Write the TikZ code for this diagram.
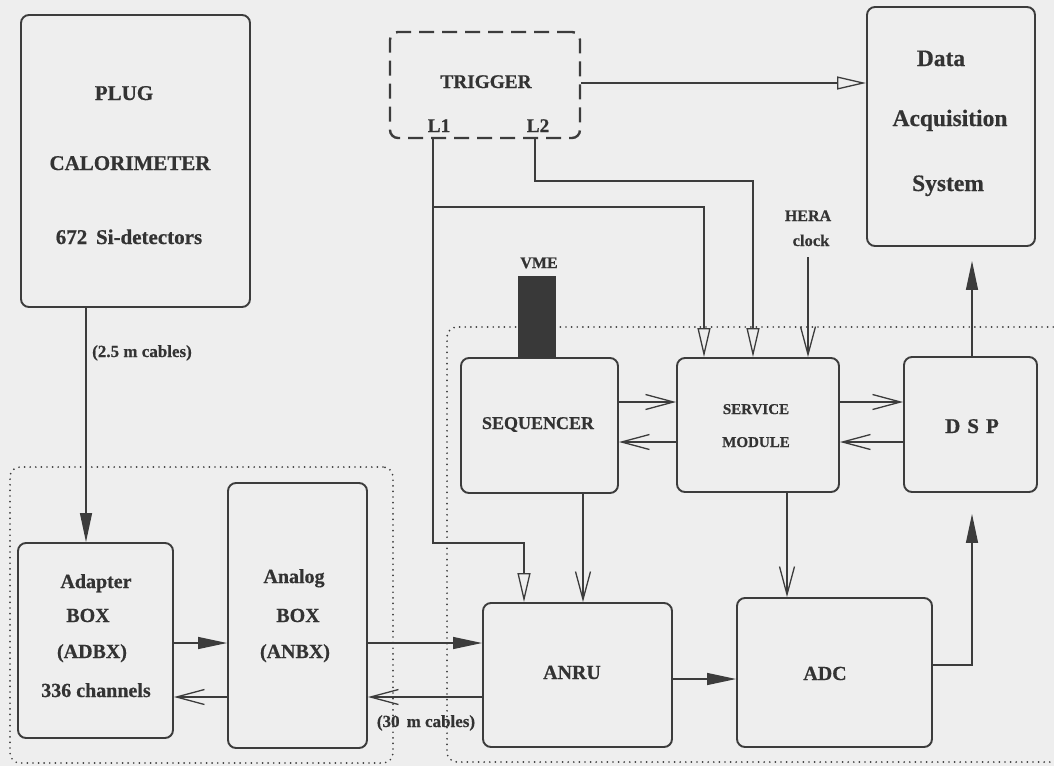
\documentclass[tikz,border=0pt]{standalone}
\usepackage{fontspec}
\setmainfont{Liberation Serif}[BoldFeatures={FakeBold=0.6}]
\usetikzlibrary{arrows.meta}
\definecolor{bgc}{HTML}{EEEEEE}
\definecolor{ink}{HTML}{3C3C3C}
\definecolor{txt}{HTML}{333333}
\tikzset{
  box/.style={draw=ink, line width=1.9pt, rounded corners=8pt, rectangle, inner sep=0pt},
  trigbox/.style={box, line width=2.4pt, dash pattern=on 15pt off 8pt},
  grp/.style={draw=ink, line width=1.9pt, line cap=round, dash pattern=on 0pt off 5.6pt, rounded corners=10pt, rectangle, inner sep=0pt},
  conn/.style={draw=ink, line width=1.3pt},
  fa/.style={conn, -{Triangle[length=29pt,width=12pt]}},
  ot/.style={conn, -{Triangle[open,length=29pt,width=13pt]}},
  va/.style={conn, -{Straight Barb[length=28pt,width=15pt]}},
  lbl/.style={anchor=base, inner sep=0pt, text=txt, font=\bfseries\fontsize{#1}{#1}\selectfont},
  lbl/.default=20
}
\begin{document}
\begin{tikzpicture}[x=1pt,y=-1pt]
\useasboundingbox (0,0) rectangle (1054,766);
\fill[bgc] (0,0) rectangle (1054,766);
\begin{scope}
\clip (0,0) rectangle (1054,766);
% group frames
\node[grp, minimum width=383pt, minimum height=296pt] (grpA) at (201.5,615) {};
\node[grp, minimum width=633pt, minimum height=435pt] (grpB) at (763.5,544.5) {};
\end{scope}
% boxes
\node[box, minimum width=229pt, minimum height=292pt] (plug) at (135.5,161) {};
\node[trigbox, minimum width=190pt, minimum height=106pt] (trig) at (485,85) {};
\node[box, minimum width=168pt, minimum height=239pt] (daq) at (951,126.5) {};
\node[box, minimum width=157pt, minimum height=135pt] (seq) at (539.5,425.5) {};
\node[box, minimum width=162pt, minimum height=134pt] (serv) at (758,425) {};
\node[box, minimum width=133pt, minimum height=135pt] (dsp) at (970.5,424.5) {};
\node[box, minimum width=189pt, minimum height=144pt] (anru) at (577.5,675) {};
\node[box, minimum width=195pt, minimum height=149pt] (adc) at (834.5,672.5) {};
\node[box, minimum width=155pt, minimum height=195pt] (adbx) at (95.5,640.5) {};
\node[box, minimum width=139pt, minimum height=265pt] (anbx) at (297.5,615.5) {};
\node[rectangle, fill=ink!95!black, draw=none, inner sep=0pt, minimum width=38pt, minimum height=82pt] (vme) at (537,317) {};
% texts
\node[lbl=21] (t-plug1) at (124,100) {PLUG};
\node[lbl=21] (t-plug2) at (130,170) {CALORIMETER};
\node[lbl=21] (t-plug3) at (129,244) {672\, Si-detectors};
\node[lbl=23.5] (t-daq1) at (941,66) {Data};
\node[lbl=23.5] (t-daq2) at (950,126) {Acquisition};
\node[lbl=23.5] (t-daq3) at (948,191) {System};
\node[lbl=19.3] (t-trig) at (486,88) {TRIGGER};
\node[lbl=19.3] (t-l1) at (439,132) {L1};
\node[lbl=19.3] (t-l2) at (538,132) {L2};
\node[lbl=16] (t-vme) at (539,268) {VME};
\node[lbl=16] (t-hera) at (808,221) {HERA};
\node[lbl=16.5] (t-clock) at (811,246) {clock};
\node[lbl=17] (t-cab1) at (142,357) {(2.5 m cables)};
\node[lbl=17] (t-cab2) at (426,727) {(30\, m cables)};
\node[lbl=18] (t-seq) at (538,429) {SEQUENCER};
\node[lbl=15] (t-serv1) at (756,414) {SERVICE};
\node[lbl=15] (t-serv2) at (756,447) {MODULE};
\node[lbl=21] (t-dsp) at (972,433) {D\,\,S\,\,P};
\node[lbl=20] (t-anru) at (572,679) {ANRU};
\node[lbl=20] (t-adc) at (825,680) {ADC};
\node[lbl=20] (t-ad1) at (96,588) {Adapter};
\node[lbl=20] (t-ad2) at (88,622) {BOX};
\node[lbl=20] (t-ad3) at (92,658) {(ADBX)};
\node[lbl=20] (t-ad4) at (96,697) {336 channels};
\node[lbl=20] (t-an1) at (294,583) {Analog};
\node[lbl=20] (t-an2) at (298,622) {BOX};
\node[lbl=20] (t-an3) at (295,658) {(ANBX)};
% helper levels
\coordinate (h83) at (0,83);
\coordinate (h181) at (0,181);
\coordinate (h207) at (0,207);
\coordinate (h402) at (0,402);
\coordinate (h442) at (0,442);
\coordinate (h543) at (0,543);
\coordinate (h643) at (0,643);
\coordinate (h665) at (0,665);
\coordinate (h679) at (0,679);
\coordinate (h697) at (0,697);
\coordinate (v86) at (86,0);
\coordinate (v433) at (433,0);
\coordinate (v524) at (524,0);
\coordinate (v535) at (535,0);
\coordinate (v583) at (583,0);
\coordinate (v704) at (704,0);
\coordinate (v753) at (753,0);
\coordinate (v787) at (787,0);
\coordinate (v972) at (972,0);
\coordinate (hera) at (808,257);
\coordinate (l1b) at (v433 |- h207);
% connectors
\draw[fa] (plug.south -| v86) -- (adbx.north -| v86);
\draw[fa] (adbx.east |- h643) -- (anbx.west |- h643);
\draw[va] (anbx.west |- h697) -- (adbx.east |- h697);
\draw[fa] (anbx.east |- h643) -- (anru.west |- h643);
\draw[va] (anru.west |- h697) -- (anbx.east |- h697);
\draw[fa] (anru.east |- h679) -- (adc.west |- h679);
\draw[fa, shorten >=21pt] (adc.east |- h665) -| (dsp.south -| v972);
\draw[fa, shorten >=14pt] (dsp.north -| v972) -- (daq.south -| v972);
\draw[va] (seq.east |- h402) -- (serv.west |- h402);
\draw[va] (serv.west |- h442) -- (seq.east |- h442);
\draw[va] (serv.east |- h402) -- (dsp.west |- h402);
\draw[va] (dsp.west |- h442) -- (serv.east |- h442);
\draw[va] (seq.south -| v583) -- (anru.north -| v583);
\draw[va] (serv.south -| v787) -- (adc.north -| v787);
\draw[ot] (trig.east |- h83) -- (daq.west |- h83);
\draw[ot] (trig.south -| v433) -- (v433 |- h543) -| (anru.north -| v524);
\draw[ot] (l1b) -| (serv.north -| v704);
\draw[ot] (trig.south -| v535) -- (v535 |- h181) -| (serv.north -| v753);
\draw[va] (hera) -- (hera |- serv.north);
\end{tikzpicture}
\end{document}
